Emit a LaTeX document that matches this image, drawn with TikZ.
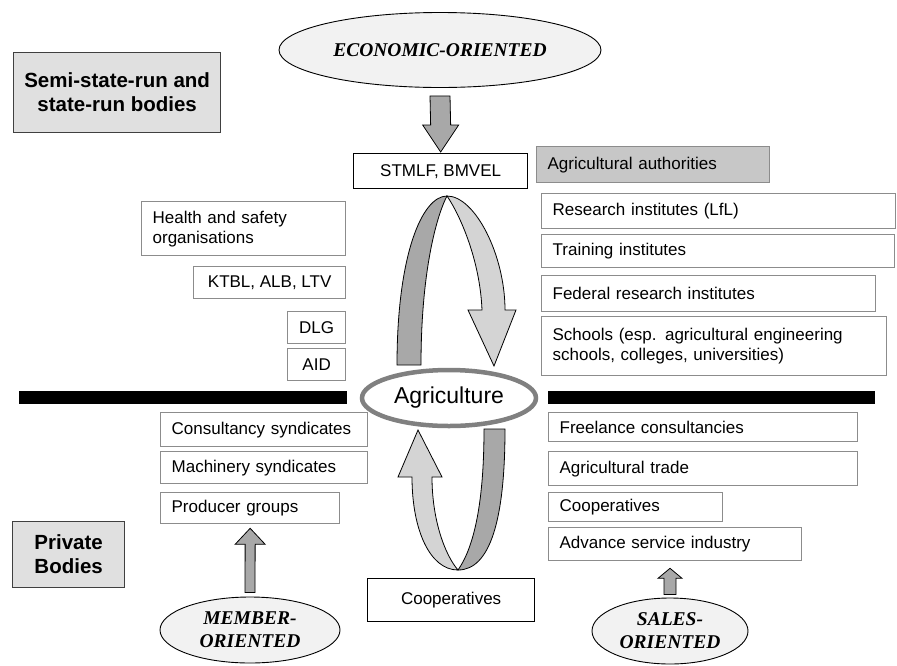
\documentclass[tikz,border=0pt]{standalone}
\usepackage{fontspec}
\setmainfont{Liberation Serif}
\setsansfont{Liberation Sans}
\usetikzlibrary{shapes.geometric, calc}

\definecolor{boxline}{gray}{0.55}
\definecolor{panel}{gray}{0.88}
\definecolor{authfill}{gray}{0.78}
\definecolor{bandlight}{gray}{0.83}
\definecolor{banddark}{gray}{0.66}
\definecolor{ovalfill}{gray}{0.95}
\definecolor{agriline}{gray}{0.5}

\tikzset{
  lbox/.style={draw=boxline, line width=1.3pt, anchor=north west, inner xsep=11pt, inner ysep=0pt,
    align=left, font=\sffamily\fontsize{17}{20}\selectfont},
  cbox/.style={lbox, align=center, inner xsep=0pt},
  blackbox/.style={cbox, draw=black},
  headbox/.style={cbox, draw=black!75, fill=panel, font=\sffamily\bfseries\fontsize{20.5}{24}\selectfont},
  oval/.style={ellipse, draw=black, line width=0.9pt, fill=ovalfill, inner sep=0pt, align=center,
    font=\rmfamily\bfseries\itshape\fontsize{19.5}{23}\selectfont},
  fatarrow/.style={draw=black, line width=0.8pt, fill=banddark},
  band/.style={draw=black, line width=0.8pt}
}

\begin{document}
\begin{tikzpicture}[x=1pt, y=-1pt]
\useasboundingbox (0,0) rectangle (897,665);

\path (13,52) node[headbox, minimum width=207, minimum height=80] (semi) {Semi-state-run and\\state-run bodies}
      (12,521) node[headbox, minimum width=112, minimum height=66] (private) {Private\\Bodies}

      (440,50) node[oval, minimum width=322, minimum height=75] (eco) {ECONOMIC-ORIENTED}
      (250,630) node[oval, minimum width=180, minimum height=66] (member) {MEMBER-\\ORIENTED}
      (670,631) node[oval, minimum width=156, minimum height=66] (sales) {SALES-\\ORIENTED}

      (353,153) node[blackbox, minimum width=174, minimum height=35] (stmlf) {STMLF, BMVEL}
      (536,146) node[lbox, fill=authfill, minimum width=233, minimum height=36, text width=211] (auth) {Agricultural authorities}
      (541,193) node[lbox, minimum width=354, minimum height=35, text width=332] (research) {Research institutes (LfL)}
      (541,234) node[lbox, minimum width=353, minimum height=33, text width=331] (training) {Training institutes}
      (541,275) node[lbox, minimum width=334, minimum height=36, text width=312] (federal) {Federal research institutes}
      (541,316) node[lbox, minimum width=345, minimum height=59, text width=323] (schools) {Schools (esp. agricultural engineering\\schools, colleges, universities)}

      (141,201) node[lbox, minimum width=204, minimum height=54, text width=182] (health) {Health and safety\\organisations}
      (193,266) node[cbox, minimum width=152, minimum height=32] (ktbl) {KTBL, ALB, LTV}
      (287,311) node[cbox, minimum width=58, minimum height=32] (dlg) {DLG}
      (287,348) node[cbox, minimum width=58, minimum height=32] (aid) {AID}

      (160,412) node[lbox, minimum width=207, minimum height=34, text width=185] (consult) {Consultancy syndicates}
      (160,451) node[lbox, minimum width=207, minimum height=32, text width=185] (machinery) {Machinery syndicates}
      (160,492) node[lbox, minimum width=179, minimum height=31, text width=157] (producer) {Producer groups}

      (548,412) node[lbox, minimum width=309, minimum height=29, text width=287] (freelance) {Freelance consultancies}
      (548,451) node[lbox, minimum width=309, minimum height=34, text width=287] (trade) {Agricultural trade}
      (548,492) node[lbox, minimum width=174, minimum height=29, text width=152] (coopright) {Cooperatives}
      (548,527) node[lbox, minimum width=253, minimum height=33, text width=231] (advance) {Advance service industry}

      (367,578) node[blackbox, minimum width=167, minimum height=43] (coopbot) {Cooperatives};

\fill (19,391) rectangle (347,404);
\fill (548,391) rectangle (875,404);

\filldraw[band, fill=banddark] (397,365) .. controls (397,255) and (422,196) .. (447,196)
  .. controls (437,215) and (421,270) .. (421,365) -- cycle;
\filldraw[band, fill=bandlight] (447,196) .. controls (475,196) and (505,255) .. (505,310)
  -- (516,310) -- (494,366) -- (468,310) -- (482,310)
  .. controls (480,260) and (460,215) .. (447,196) -- cycle;

\filldraw[band, fill=bandlight] (458,570) .. controls (430,570) and (412,530) .. (412,477)
  -- (398,477) -- (418,430) -- (442,477) -- (432,477)
  .. controls (432,520) and (445,555) .. (458,570) -- cycle;
\filldraw[band, fill=banddark] (484,429) -- (505,429) .. controls (505,520) and (490,570) .. (458,570)
  .. controls (472,550) and (484,510) .. (484,429) -- cycle;

\path (449,398) node[ellipse, draw=agriline, line width=4.5pt, fill=white, minimum width=174, minimum height=56,
      font=\sffamily\fontsize{23}{26}\selectfont] (agri) {Agriculture};

\draw[fatarrow] ($(eco.south)+(-10,8)$) -- ($(eco.south)+(10,8)$) -- ($(stmlf.north)+(10,-28)$)
  -- ($(stmlf.north)+(18,-28)$) -- ($(stmlf.north)+(0,-1)$) -- ($(stmlf.north)+(-18,-28)$)
  -- ($(stmlf.north)+(-10,-28)$) -- cycle;
\draw[fatarrow] ($(member.north)+(-5,-4)$) -- ($(member.north)+(5,-4)$) -- ($(producer.south)+(5,20)$)
  -- ($(producer.south)+(15,20)$) -- ($(producer.south)+(0,4)$) -- ($(producer.south)+(-15,20)$)
  -- ($(producer.south)+(-5,20)$) -- cycle;
\draw[fatarrow] ($(sales.north)+(-6,-3)$) -- ($(sales.north)+(6,-3)$) -- ($(sales.north |- advance.south)+(6,17)$)
  -- ($(sales.north |- advance.south)+(12,17)$) -- ($(sales.north |- advance.south)+(0,7)$)
  -- ($(sales.north |- advance.south)+(-12,17)$) -- ($(sales.north |- advance.south)+(-6,17)$) -- cycle;

\end{tikzpicture}
\end{document}
